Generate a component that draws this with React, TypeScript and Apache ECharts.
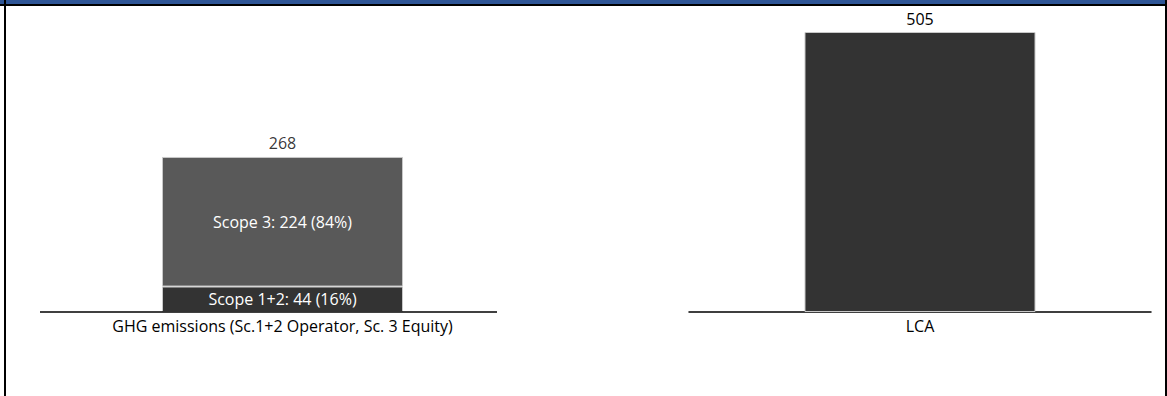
import React, { useEffect, useRef } from "react";
import * as echarts from "echarts";

const ghgCategories = ["GHG emissions (Sc.1+2 Operator, Sc. 3 Equity)"];
const scope12Values = [44];
const scope3Values = [224];
const lcaCategories = ["LCA"];
const lcaValues = [505];

const FONT = "'Open Sans', 'Noto Sans', sans-serif";
const FS = 16;

export default function App() {
  const ref = useRef<HTMLDivElement>(null);
  useEffect(() => {
    if (!ref.current) return;
    const chart = echarts.init(ref.current, undefined, { renderer: "svg" });
    const totals = scope12Values.map((v, i) => v + scope3Values[i]);
    const pct = (v: number, t: number) => Math.round((v / t) * 100);
    chart.setOption({
      animation: false,
      backgroundColor: "#ffffff",
      textStyle: { fontFamily: FONT },
      grid: [
        { left: 68, width: 429, top: 32, bottom: 84, containLabel: false },
        { left: 689, width: 462, top: 32, bottom: 84, containLabel: false },
      ],
      xAxis: [
        {
          gridIndex: 0,
          type: "category",
          data: ghgCategories,
          axisLine: { show: false },
          axisTick: { show: false },
          axisLabel: { color: "#000", fontSize: FS, fontFamily: FONT, margin: 6 },
        },
        {
          gridIndex: 1,
          type: "category",
          data: lcaCategories,
          axisLine: { show: true, lineStyle: { color: "#000", width: 1.5 } },
          axisTick: { show: false },
          axisLabel: { color: "#000", fontSize: FS, fontFamily: FONT, margin: 6 },
        },
      ],
      yAxis: [
        { gridIndex: 0, type: "value", min: 0, max: 484, show: false, splitLine: { show: false } },
        { gridIndex: 1, type: "value", min: 0, max: 505, show: false, splitLine: { show: false } },
      ],
      series: [
        {
          name: "Scope 1+2",
          type: "bar",
          xAxisIndex: 0,
          yAxisIndex: 0,
          stack: "ghg",
          barWidth: 241,
          data: scope12Values,
          itemStyle: { color: "#333333", borderColor: "#c8c8c8", borderWidth: 1 },
          label: {
            show: true,
            position: "inside",
            color: "#ffffff",
            fontSize: FS,
            fontFamily: FONT,
            formatter: (p: any) => `Scope 1+2: ${p.value} (${pct(p.value, totals[p.dataIndex])}%)`,
          },
        },
        {
          name: "Scope 3",
          type: "bar",
          xAxisIndex: 0,
          yAxisIndex: 0,
          stack: "ghg",
          barWidth: 241,
          data: scope3Values,
          itemStyle: { color: "#595959", borderColor: "#c8c8c8", borderWidth: 1 },
          label: {
            show: true,
            position: "inside",
            color: "#ffffff",
            fontSize: FS,
            fontFamily: FONT,
            formatter: (p: any) => `Scope 3: ${p.value} (${pct(p.value, totals[p.dataIndex])}%)`,
          },
        },
        {
          name: "Total",
          type: "scatter",
          xAxisIndex: 0,
          yAxisIndex: 0,
          symbolSize: 1,
          itemStyle: { color: "rgba(0,0,0,0)" },
          data: totals,
          label: {
            show: true,
            position: "top",
            distance: 5,
            color: "#000",
            fontSize: FS,
            fontFamily: FONT,
          },
        },
        {
          name: "LCA",
          type: "bar",
          xAxisIndex: 1,
          yAxisIndex: 1,
          barWidth: 231,
          data: lcaValues,
          itemStyle: { color: "#333333", borderColor: "#c8c8c8", borderWidth: 1 },
          label: {
            show: true,
            position: "top",
            distance: 5,
            color: "#000",
            fontSize: FS,
            fontFamily: FONT,
          },
        },
      ],
      graphic: [
        { type: "rect", left: 0, top: 0, shape: { width: 1167, height: 4 }, style: { fill: "#2E5596" }, z: 10 },
        { type: "rect", left: 0, top: 4, shape: { width: 1167, height: 2 }, style: { fill: "#000" }, z: 10 },
        { type: "rect", left: 4, top: 0, shape: { width: 2, height: 396 }, style: { fill: "#000" }, z: 10 },
        { type: "rect", left: 1165, top: 0, shape: { width: 2, height: 396 }, style: { fill: "#000" }, z: 10 },
        {
          type: "line",
          shape: { x1: 40, y1: 312, x2: 497, y2: 312 },
          style: { stroke: "#000", lineWidth: 1.5 },
          z: 10,
        },
      ],
    });
    return () => chart.dispose();
  }, []);
  return (
    <div
      ref={ref}
      style={{ position: "fixed", left: 0, top: 0, width: 1167, height: 396 }}
    />
  );
}
